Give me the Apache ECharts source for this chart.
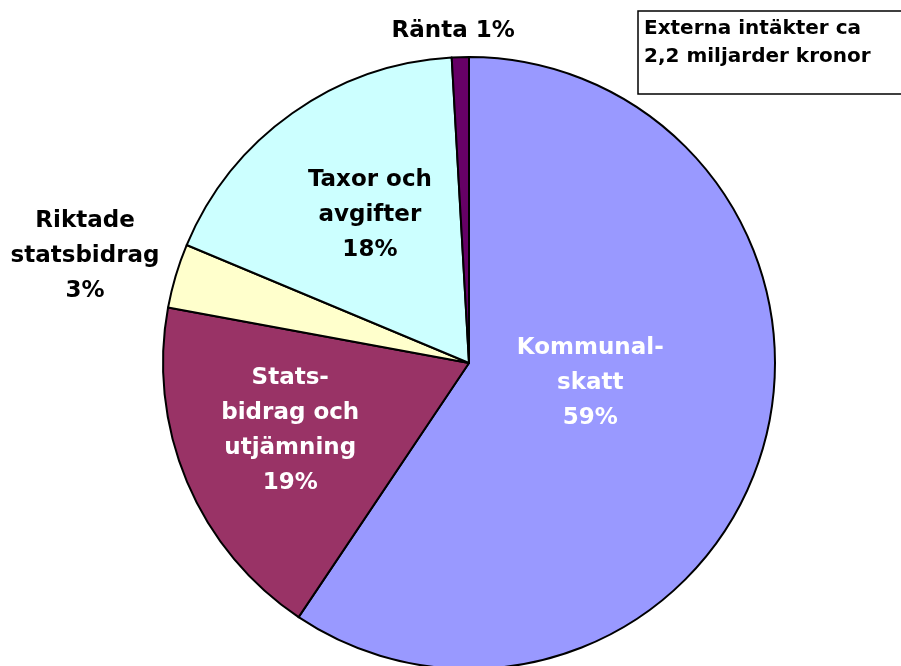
<!DOCTYPE html>
<html>
<head>
<meta charset="utf-8">
<script src="https://cdn.jsdelivr.net/npm/echarts@6/dist/echarts.min.js"></script>
<style>
  html, body { margin: 0; padding: 0; background: #fff; }
  #chart { width: 901px; height: 666px; }
</style>
</head>
<body>
<div id="chart"></div>
<script>
  // slices, clockwise from 12 o'clock
  var names = ['Kommunal-\nskatt', 'Stats-\nbidrag och\nutjämning', 'Riktade\nstatsbidrag', 'Taxor och\navgifter', 'Ränta'];
  var values = [59.4, 18.5, 3.4, 17.8, 0.9];
  var colors = ['#9999ff', '#993366', '#ffffcc', '#ccffff', '#660066'];
  var labelColors = ['#fff', '#fff', '#000', '#000', '#000'];
  var labelPos = ['inside', 'inside', 'outside', 'inside', 'outside'];
  // nudges for the label text, like in the original sheet
  var labelDx = [-28, -35, -78, -9, -2];
  var labelDy = [-25, 7, -17, -21, -18];
  var boxText = 'Externa intäkter ca\n2,2 miljarder kronor';

  var font = '"DejaVu Sans", sans-serif';

  var chart = echarts.init(document.getElementById('chart'));
  var data = [];
  for (var i = 0; i < names.length; i++) {
    data.push({
      name: names[i],
      value: values[i],
      itemStyle: { color: colors[i] },
      label: { position: labelPos[i], color: labelColors[i] },
      labelLine: { show: false, length: 8, length2: 0 }
    });
  }

  chart.setOption({
    animation: false,
    series: [{
      type: 'pie',
      center: [469, 363],
      radius: 306,
      startAngle: 90,
      clockwise: true,
      avoidLabelOverlap: false,
      itemStyle: { borderColor: '#000', borderWidth: 2 },
      label: {
        fontFamily: font,
        fontWeight: 'bold',
        fontSize: 23,
        lineHeight: 35,
        align: 'center',
        formatter: function (p) {
          var sep = p.name === 'Ränta' ? ' ' : '\n';
          return p.name + sep + Math.round(p.percent) + '%';
        }
      },
      labelLayout: function (p) {
        return { dx: labelDx[p.dataIndex], dy: labelDy[p.dataIndex], align: 'center' };
      },
      data: data
    }],
    graphic: [{
      type: 'rect',
      shape: { x: 638, y: 11, width: 270, height: 83 },
      style: { fill: '#fff', stroke: '#000', lineWidth: 1.5 }
    }, {
      type: 'text',
      left: 644, top: 15,
      style: {
        text: boxText,
        font: 'bold 20px ' + font,
        lineHeight: 28,
        fill: '#000'
      }
    }]
  });
</script>
</body>
</html>
